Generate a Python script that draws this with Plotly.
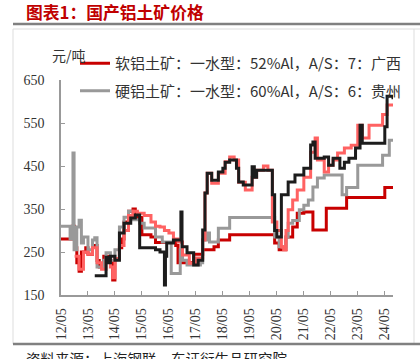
import plotly.graph_objects as go

# ---------------- data ----------------
soft_dates = ["2012-05", "2012-10", "2012-11", "2012-12", "2013-01", "2013-02", "2013-04", "2013-05",
              "2013-07", "2013-09", "2013-10", "2013-12", "2014-02", "2014-04", "2014-05", "2014-07",
              "2014-08", "2014-09", "2014-11", "2015-01", "2015-02", "2015-03", "2015-05", "2015-09",
              "2015-11", "2016-08", "2016-09", "2017-04", "2017-08", "2018-01", "2018-03", "2018-08",
              "2020-03", "2020-04", "2020-06", "2020-09", "2020-12", "2021-02", "2021-05", "2021-09",
              "2022-03", "2022-12", "2024-05", "2024-08-20"]
soft_vals = [280, 310, 260, 225, 205, 250, 260, 245,
             265, 230, 215, 240, 230, 185, 235, 260,
             280, 320, 345, 350, 340, 330, 290, 285,
             272, 265, 225, 245, 255, 262, 278, 290,
             290, 271, 255, 285, 308, 340, 343, 301,
             352, 377, 400, 400]

hard_dates = ["2012-05", "2012-09", "2012-10-10", "2012-10-25", "2012-12", "2013-01", "2013-02", "2013-03",
              "2013-05", "2013-07", "2013-08", "2013-09", "2013-12", "2014-01", "2014-03", "2014-05",
              "2014-07", "2014-09", "2014-11", "2015-01", "2015-04", "2015-06", "2015-11", "2016-02",
              "2016-06", "2016-10", "2016-11", "2017-01", "2017-07", "2017-08", "2017-10", "2017-11",
              "2018-03", "2018-08", "2020-04", "2020-06", "2020-09", "2020-10", "2020-12", "2021-03",
              "2021-05", "2021-07", "2021-09", "2021-11", "2022-02", "2022-10", "2022-12", "2023-05",
              "2024-04", "2024-07", "2024-08-20"]
hard_vals = [310, 280, 480, 255, 308, 324, 271, 285,
             255, 278, 283, 215, 231, 248, 231, 255,
             308, 331, 345, 325, 317, 306, 285, 273,
             200, 255, 231, 220, 225, 278, 294, 273,
             305, 330, 285, 262, 285, 317, 323, 348,
             359, 371, 401, 422, 429, 383, 400, 452,
             475, 510, 510]

salmon_dates = ["2012-11", "2013-01", "2013-03", "2013-05", "2013-07", "2013-09", "2013-11", "2014-01",
                "2014-03", "2014-04", "2014-05", "2014-07", "2014-09", "2014-11", "2015-01", "2015-03",
                "2015-06", "2015-09", "2015-11", "2016-01", "2016-03", "2016-05", "2016-07", "2016-09",
                "2016-11", "2017-02", "2017-05", "2017-08", "2017-09", "2017-10", "2017-12", "2018-03",
                "2018-06", "2018-08", "2018-10", "2018-12", "2019-03", "2019-06", "2019-08", "2019-11",
                "2020-01", "2020-03", "2020-05", "2020-07", "2020-08", "2020-09", "2020-10", "2020-12",
                "2021-02", "2021-05", "2021-08", "2021-10", "2021-11", "2022-02", "2022-04", "2022-06",
                "2022-08", "2022-11", "2023-02", "2023-05", "2023-07", "2023-10", "2024-04", "2024-06",
                "2024-08-20"]
salmon_vals = [240, 210, 250, 245, 260, 225, 210, 235,
               215, 190, 235, 265, 300, 335, 345, 340,
               335, 320, 310, 308, 300, 294, 280, 273,
               243, 224, 236, 278, 387, 433, 410, 433,
               460, 471, 464, 412, 394, 424, 440, 450,
               440, 320, 300, 262, 255, 300, 348, 371,
               394, 424, 482, 515, 464, 436, 452, 464,
               480, 492, 498, 545, 515, 545, 570, 592,
               590]

black_dates = ["2013-08", "2013-12", "2014-01", "2014-02", "2014-03", "2014-05", "2014-07", "2014-09",
               "2014-12", "2015-02", "2015-04", "2015-11", "2016-01", "2016-03-01", "2016-03-15", "2016-04",
               "2016-07", "2016-10-10", "2016-10-25", "2017-01", "2017-04", "2017-06", "2017-08", "2017-09",
               "2017-10", "2017-12", "2018-03", "2018-05", "2018-06", "2018-08", "2018-11", "2018-12",
               "2019-02", "2019-06", "2019-07", "2019-08", "2020-02", "2020-03", "2020-04", "2020-05",
               "2020-07", "2020-10", "2021-01", "2021-05", "2021-08", "2021-09", "2021-10", "2022-02",
               "2022-04", "2022-06", "2022-09", "2022-11", "2023-01", "2023-04", "2023-06", "2023-07",
               "2024-04", "2024-05", "2024-06", "2024-08-20"]
black_vals = [195, 195, 238, 225, 240, 231, 294, 317,
              329, 336, 260, 255, 250, 173, 240, 271,
              278, 343, 262, 248, 220, 231, 301, 387,
              433, 417, 436, 445, 459, 464, 445, 413,
              406, 448, 424, 440, 440, 383, 300, 285,
              383, 413, 429, 445, 499, 506, 468, 471,
              452, 468, 445, 459, 468, 492, 545, 503,
              503, 541, 612, 605]

y_ticks = [150, 250, 350, 450, 550, 650]
soft_name = "软铝土矿：一水型：52%Al，A/S：7：广西"
hard_name = "硬铝土矿：一水型：60%Al，A/S：6：贵州"

# ---------------- figure ----------------
W, H = 420, 359
L, R, T, B = 61, 27, 80, 64
PW, PH = W - L - R, H - T - B


def px(x):
    return (x - L) / PW


def py(y):
    return (H - B - y) / PH


CJK = "Noto Sans CJK SC"
SERIF = "Liberation Serif"

fig = go.Figure()
fig.add_trace(go.Scatter(x=soft_dates, y=soft_vals, name=soft_name, mode="lines",
                         line=dict(color="#C80000", width=3, shape="hv"), legendgroup="a"))
fig.add_trace(go.Scatter(x=hard_dates, y=hard_vals, name=hard_name, mode="lines",
                         line=dict(color="#999999", width=3, shape="hv"), legendgroup="b"))
fig.add_trace(go.Scatter(x=salmon_dates, y=salmon_vals, name="s3", mode="lines", showlegend=False,
                         line=dict(color="#FF6262", width=3, shape="hv")))
fig.add_trace(go.Scatter(x=black_dates, y=black_vals, name="s4", mode="lines", showlegend=False,
                         line=dict(color="#1C1C1C", width=3, shape="hv")))

shapes = [
    dict(type="line", xref="paper", yref="paper", x0=px(13), x1=px(420), y0=py(29), y1=py(29),
         line=dict(color="#DDDDDD", width=1)),
    dict(type="line", xref="paper", yref="paper", x0=px(13), x1=px(13), y0=py(29), y1=py(344),
         line=dict(color="#DDDDDD", width=1)),
    dict(type="line", xref="paper", yref="paper", x0=px(414), x1=px(414), y0=py(29), y1=py(344),
         line=dict(color="#DDDDDD", width=1)),
    dict(type="line", xref="paper", yref="paper", x0=px(13), x1=px(420), y0=py(24), y1=py(24),
         line=dict(color="#808080", width=2.5)),
    dict(type="line", xref="paper", yref="paper", x0=px(13), x1=px(420), y0=py(344), y1=py(344),
         line=dict(color="#808080", width=2.5)),
]

annotations = [
    dict(text="<b>图表1：国产铝土矿价格</b>", xref="paper", yref="paper", x=px(24), y=py(12),
         xanchor="left", yanchor="middle", showarrow=False,
         font=dict(family=CJK, size=16.8, color="#C00000")),
    dict(text="元/吨", xref="paper", yref="paper", x=px(50), y=py(55),
         xanchor="left", yanchor="middle", showarrow=False,
         font=dict(family=CJK, size=14, color="#333333")),
    dict(text="资料来源：上海钢联，东证衍生品研究院", xref="paper", yref="paper", x=px(24), y=py(346),
         xanchor="left", yanchor="top", showarrow=False,
         font=dict(family=CJK, size=14.5, color="#222222")),
]

fig.update_layout(
    width=W, height=H,
    margin=dict(l=L, r=R, t=T, b=B, pad=0),
    paper_bgcolor="white", plot_bgcolor="white",
    showlegend=True,
    legend=dict(x=px(75), y=py(47), xanchor="left", yanchor="top",
                bgcolor="rgba(0,0,0,0)", font=dict(family=CJK, size=15, color="#333333"),
                tracegroupgap=5, itemwidth=30, traceorder="grouped"),
    shapes=shapes, annotations=annotations,
    xaxis=dict(type="date", range=["2012-05-01", "2024-08-20"], tick0="2012-05-01", dtick="M12",
               tickformat="%y/%m", tickangle=-90, ticks="inside", ticklen=4, tickcolor="#999999",
               showline=True, linecolor="#999999", linewidth=1.5, showgrid=False, zeroline=False,
               ticklabelstandoff=6,
               tickfont=dict(family=SERIF, size=14, color="#333333")),
    yaxis=dict(range=[150, 650], tickvals=y_ticks, ticks="inside", ticklen=4, tickcolor="#999999",
               showline=True, linecolor="#999999", linewidth=1.5, showgrid=False, zeroline=False,
               ticklabelstandoff=12,
               tickfont=dict(family=SERIF, size=14, color="#333333")),
)

fig.write_html("out.html", config={"displayModeBar": False},
               post_script="document.body.style.margin='0';document.body.style.overflow='hidden';")
